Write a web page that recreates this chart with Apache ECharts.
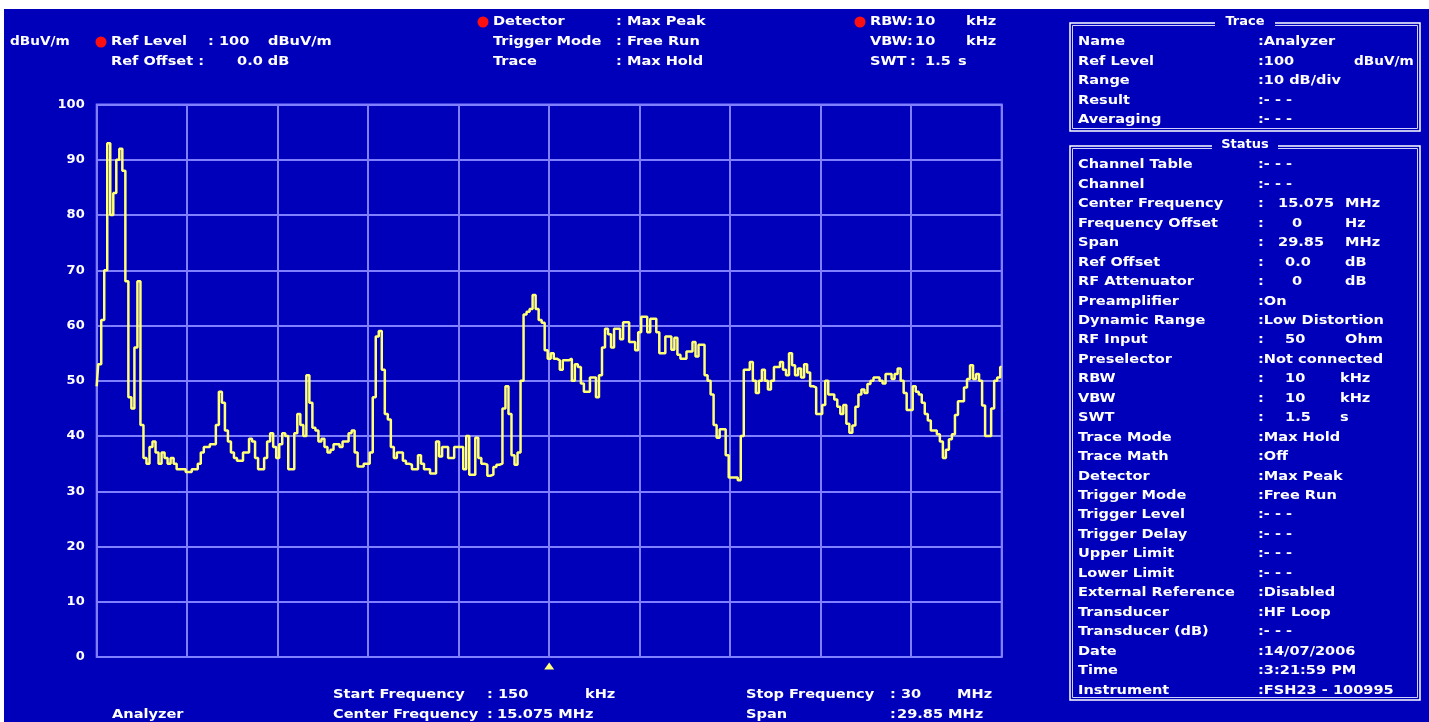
<!DOCTYPE html>
<html><head><meta charset="utf-8">
<script src="https://cdn.jsdelivr.net/npm/echarts@6/dist/echarts.min.js"></script>
<style>
html,body{margin:0;padding:0;background:#fff;width:1429px;height:722px;overflow:hidden}
#chart{position:absolute;left:4px;top:9px;width:1425px;height:713px;background:#0000bb}
</style></head><body><div id="chart"></div>
<script>
// ---- data: trace level (dBuV/m) at each of 301 sweep points, 150 kHz .. 30 MHz
const levels = [
49,53,61,70,93,80,84,90,92,88,
68,47,45,56,68,42,36,35,38,39,
37,35,37,36,35,36,35,34,34,34,
33.5,33.5,34,34,35,37,38,38,38.5,38.5,
42,48,46,41,39,37,36,35.5,35.5,37,
37,39.5,39,36,34,34,36,39,40.5,38,
36,38.5,40.5,40,34,34,40.5,44,42,40,
51,46,41.5,41,39,39.5,38,37,37.5,38.5,
38.5,38,39,39,40.5,41,37,34.5,34.5,35,
35,37,47,58,59,52,44,43,38,36,
37,37,35.5,35,34.8,34,34,36.5,35,34,
34,33.2,33.2,39,36.3,38,38,36,36,38,
38,38,34,40,33,33,39.7,36,35,34.8,
32.8,33,34.4,34.8,35,45,49,44,36.5,34.8,
37,50,62,62.5,63,65.5,63,61,60.5,55.5,
54,55,54,53.7,52,53.7,53.7,54,50,53,
52.5,49.5,48,48,50.6,50.6,47,51,56,59.4,
58.4,56,59.4,59.4,57.5,60.6,60.6,57,57,55.5,
58.8,61.6,61.6,58.8,61.2,61.2,58.8,55,55,58,
58,55.6,57.8,54.7,54,54,55.3,55.3,57,54.4,
56.5,56.5,51,50,47.5,42,39.7,41.2,41.2,36.5,
32.5,32.5,32.5,32,40,52,52,53.4,50,47.8,
50,52,50,48.4,50,52.5,52.5,53.4,52,51,
55,52.8,51,52.2,50.6,53,51.5,49,48.8,44,
44,45.6,50,47.5,47.5,46.6,45.3,44,45.6,42.2,
40.6,41.9,45.3,47.5,48.4,47.8,49.4,50,50.6,50.6,
50,49.5,51.2,51.2,50.3,51.2,52.2,50,47.8,44.7,
44.7,49,48,47.5,46,44,42.8,41,41,40.3,
39,36,37.5,39.4,40.3,43.8,46.3,46.3,48.8,50.3,
52.8,50.3,51.2,50,45.5,40,40,45,50,50.6,
52.5
];
const centerPoint = 150;
const yMin = 0, yMax = 100, yStep = 10;
const unitLabel = "dBuV/m";

const headerLeft = [["Ref Level", ": 100", "dBuV/m"], ["Ref Offset :", "0.0 dB", ""]];
const headerMid = [["Detector", ": Max Peak"], ["Trigger Mode", ": Free Run"], ["Trace", ": Max Hold"]];
const headerRight = [["RBW", ":", "10", "kHz"], ["VBW", ":", "10", "kHz"], ["SWT", ":", "1.5", "s"]];
const footer = [
  ["Start Frequency", ": 150", "kHz", "Stop Frequency", ": 30", "MHz"],
  ["Center Frequency", ":", "15.075 MHz", "Span", ":", "29.85 MHz"]
];
const footerName = "Analyzer";

const traceTitle = "Trace";
const traceRows = [
  ["Name", ":Analyzer", "", ""],
  ["Ref Level", ":100", "", ""],
  ["Range", ":10 dB/div", "", ""],
  ["Result", ":- - -", "", ""],
  ["Averaging", ":- - -", "", ""]
];
const traceRefUnit = "dBuV/m";
const statusTitle = "Status";
const statusRows = [
  ["Channel Table", ":- - -", "", ""],
  ["Channel", ":- - -", "", ""],
  ["Center Frequency", ":", "15.075", "MHz"],
  ["Frequency Offset", ":", "0", "Hz"],
  ["Span", ":", "29.85", "MHz"],
  ["Ref Offset", ":", "0.0", "dB"],
  ["RF Attenuator", ":", "0", "dB"],
  ["Preamplifier", ":On", "", ""],
  ["Dynamic Range", ":Low Distortion", "", ""],
  ["RF Input", ":", "50", "Ohm"],
  ["Preselector", ":Not connected", "", ""],
  ["RBW", ":", "10", "kHz"],
  ["VBW", ":", "10", "kHz"],
  ["SWT", ":", "1.5", "s"],
  ["Trace Mode", ":Max Hold", "", ""],
  ["Trace Math", ":Off", "", ""],
  ["Detector", ":Max Peak", "", ""],
  ["Trigger Mode", ":Free Run", "", ""],
  ["Trigger Level", ":- - -", "", ""],
  ["Trigger Delay", ":- - -", "", ""],
  ["Upper Limit", ":- - -", "", ""],
  ["Lower Limit", ":- - -", "", ""],
  ["External Reference", ":Disabled", "", ""],
  ["Transducer", ":HF Loop", "", ""],
  ["Transducer (dB)", ":- - -", "", ""],
  ["Date", ":14/07/2006", "", ""],
  ["Time", ":3:21:59 PM", "", ""],
  ["Instrument", ":FSH23 - 100995", "", ""]
];

// ---- styling / layout
const OX = 4, OY = 9;
const WHITE = '#ffffff', GRIDC = '#8080ff', TRACEC = '#ffff78', BLUE = '#0000bb';
const FONT = 'bold 13px "DejaVu Sans"';
const SX = 1.12;

function T(x, y, text, opt) {
  opt = opt || {};
  return {
    type: 'text', x: x - OX, y: y - OY, scaleX: opt.sx || SX, silent: true, z: 10,
    style: { text: text, fill: opt.fill || WHITE, font: opt.font || FONT,
             align: opt.align || 'left', verticalAlign: 'middle' }
  };
}
function dot(x, y) {
  return { type: 'circle', shape: { cx: x - OX, cy: y - OY, r: 5.5 }, style: { fill: '#ff1010' }, silent: true, z: 10 };
}
function box(x1, y1, x2, y2) {
  return [
    { type: 'rect', shape: { x: x1 - OX, y: y1 - OY, width: x2 - x1, height: y2 - y1 },
      style: { fill: 'none', stroke: WHITE, lineWidth: 1.5 }, silent: true, z: 5 },
    { type: 'rect', shape: { x: x1 + 2.5 - OX, y: y1 + 2.5 - OY, width: x2 - x1 - 5, height: y2 - y1 - 5 },
      style: { fill: 'none', stroke: '#d0d0ff', lineWidth: 1 }, silent: true, z: 5 }
  ];
}
function titleCut(cx, y, w) {
  return { type: 'rect', shape: { x: cx - w / 2 - OX, y: y - 5 - OY, width: w, height: 10 },
           style: { fill: BLUE }, silent: true, z: 6 };
}

const els = [];
// header
els.push(T(10, 42, unitLabel, { sx: 1.05 }));
els.push(dot(101, 42));
els.push(T(111, 42, headerLeft[0][0]));
els.push(T(208, 42, headerLeft[0][1]));
els.push(T(268, 42, headerLeft[0][2]));
els.push(T(111, 62, headerLeft[1][0]));
els.push(T(237, 62, headerLeft[1][1]));
els.push(dot(483, 22));
headerMid.forEach((r, k) => { els.push(T(493, 22 + 20 * k, r[0])); els.push(T(616, 22 + 20 * k, r[1])); });
els.push(dot(860, 22));
const hrX = [[870, 907, 915, 966], [870, 907, 915, 966], [870, 910, 925, 958]];
headerRight.forEach((r, k) => {
  const y = 22 + 20 * k;
  for (let j = 0; j < 4; j++) els.push(T(hrX[k][j], y, r[j]));
});
// footer
els.push(T(112, 715, footerName));
els.push(T(333, 695, footer[0][0])); els.push(T(487, 695, footer[0][1])); els.push(T(585, 695, footer[0][2]));
els.push(T(746, 695, footer[0][3])); els.push(T(890, 695, footer[0][4])); els.push(T(957, 695, footer[0][5]));
els.push(T(333, 715, footer[1][0])); els.push(T(487, 715, footer[1][1])); els.push(T(497, 715, footer[1][2]));
els.push(T(746, 715, footer[1][3])); els.push(T(890, 715, footer[1][4])); els.push(T(897, 715, footer[1][5]));
// right panel
box(1070, 23, 1420, 131).forEach(e => els.push(e));
els.push(titleCut(1245, 23, 60));
els.push(T(1245, 22, traceTitle, { align: 'center', sx: 1 }));
function rows(list, y0) {
  list.forEach((r, k) => {
    const y = y0 + 19.45 * k;
    els.push(T(1078, y, r[0]));
    els.push(T(1258, y, r[1]));
    if (r[2]) els.push(T(r[2].length > 3 ? 1278 : (r[2].length === 1 ? 1292 : 1285), y, r[2]));
    if (r[3]) els.push(T(r[3] === 'kHz' || r[3] === 's' ? 1340 : 1345, y, r[3]));
  });
}
rows(traceRows, 42);
els.push(T(1354, 42 + 19.45, traceRefUnit, { sx: 1.05 }));
box(1070, 146, 1420, 700).forEach(e => els.push(e));
els.push(titleCut(1245, 146, 66));
els.push(T(1245, 145, statusTitle, { align: 'center', sx: 1 }));
rows(statusRows, 165);

const chart = echarts.init(document.getElementById('chart'));
chart.setOption({
  animation: false,
  backgroundColor: 'transparent',
  grid: { left: 96.7 - OX, top: 104.5 - OY, width: 905, height: 552.5, show: true,
          borderColor: GRIDC, borderWidth: 2, backgroundColor: 'transparent' },
  xAxis: { type: 'value', min: 0, max: levels.length - 1, interval: 30,
           axisLine: { show: false }, axisTick: { show: false }, axisLabel: { show: false },
           splitLine: { show: true, lineStyle: { color: GRIDC, width: 2 } } },
  yAxis: { type: 'value', min: yMin, max: yMax, interval: yStep,
           axisLine: { show: false }, axisTick: { show: false },
           axisLabel: { color: WHITE, fontWeight: 'bold', fontSize: 13, fontFamily: 'DejaVu Sans', margin: 12 },
           splitLine: { show: true, lineStyle: { color: GRIDC, width: 2 } } },
  series: [{
    type: 'line', step: 'middle', showSymbol: false, symbol: 'none', z: 5,
    data: levels.map((v, i) => [i, v]),
    lineStyle: { color: TRACEC, width: 2.5 },
    markPoint: { symbol: 'triangle', symbolSize: [10, 7], symbolOffset: [0, 9], silent: true,
                 itemStyle: { color: TRACEC }, label: { show: false },
                 data: [{ coord: [centerPoint, 0] }] }
  }],
  graphic: { elements: els }
});
</script></body></html>
